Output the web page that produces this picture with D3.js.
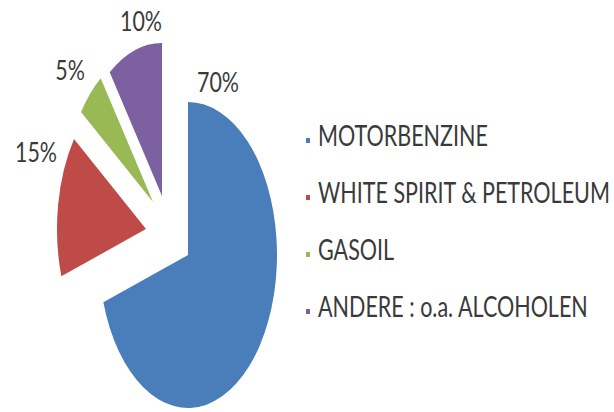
<!DOCTYPE html>
<html><head><meta charset="utf-8">
<script src="https://cdn.jsdelivr.net/npm/d3@7"></script>
<style>html,body{margin:0;padding:0;background:#fff;overflow:hidden;}</style>
</head><body>
<svg id="c" width="614" height="412"></svg>
<script>
// ---- data ----
const categories = ["MOTORBENZINE", "WHITE SPIRIT & PETROLEUM", "GASOIL", "ANDERE : o.a. ALCOHOLEN"];
const values = [70, 15, 5, 10];
const pctLabels = ["70%", "15%", "5%", "10%"];

// ---- layout / style ----
const colors = ["#4a7ebb", "#be4b48", "#98b954", "#7d60a0"];
const cx = 188, cy = 255, ry = 153, rx = 89;
const explode = [[0, 0], [-42, -26], [-35, -53], [-26, -59]];
const labelOffset = [[30, -163], [-110, -67], [-83, -122], [-21, -165]];
const textColor = "#3a3a3a";
const fontFamily = "Lato, 'Open Sans', sans-serif";

const svg = d3.select("#c");
const pieData = d3.pie().sort(null).value(d => d)(values);
const arc = d3.arc().innerRadius(0).outerRadius(ry);

const slices = svg.append("g").selectAll("g").data(pieData).join("g")
  .attr("transform", (d, i) => `translate(${cx + explode[i][0]},${cy + explode[i][1]}) scale(${rx / ry},1)`);
slices.append("path").attr("d", arc).attr("fill", (d, i) => colors[i]);

// percent labels
const lab = svg.append("g").selectAll("text").data(pieData).join("text")
  .attr("font-family", fontFamily).attr("font-size", 27).attr("fill", textColor)
  .attr("text-anchor", "middle")
  .text((d, i) => pctLabels[i]);
const w10 = lab.nodes()[3].getComputedTextLength();
const ls = 42 / w10;
lab.attr("transform", (d, i) => `translate(${cx + explode[i][0] + labelOffset[i][0]},${cy + explode[i][1] + labelOffset[i][1]}) scale(${ls},1)`);

// legend
const lgX = 318, lgY0 = 146, lgStep = 57;
const lg = svg.append("g").selectAll("g").data(categories).join("g")
  .attr("transform", (d, i) => `translate(${lgX},${lgY0 + i * lgStep})`);
lg.append("rect").attr("x", -12).attr("y", -8).attr("width", 4).attr("height", 5)
  .attr("fill", (d, i) => colors[i]);
const lt = lg.append("text").attr("font-family", fontFamily).attr("font-size", 28)
  .attr("fill", textColor).text(d => d);
const wLong = lt.nodes()[1].getComputedTextLength();
const ts = 292 / wLong;
lt.attr("transform", `scale(${ts},1)`);
</script>
</body></html>
